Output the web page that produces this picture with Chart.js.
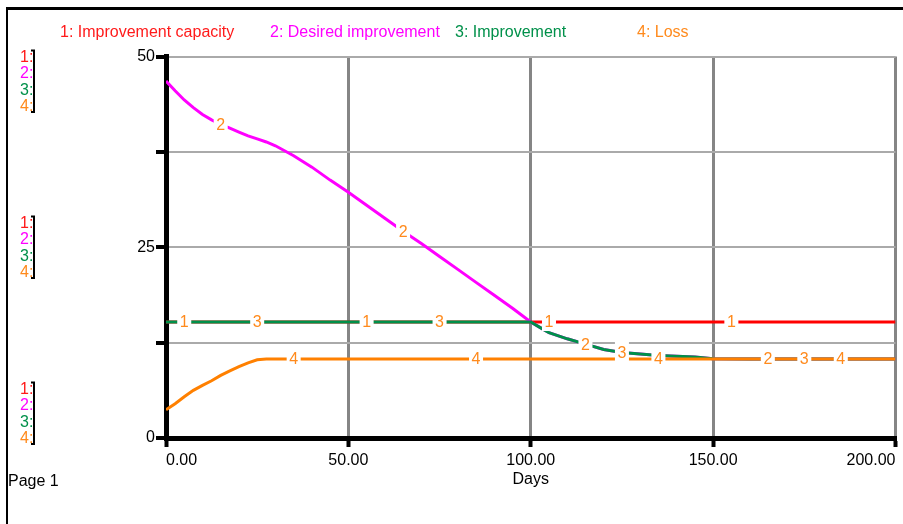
<!DOCTYPE html>
<html><head><meta charset="utf-8">
<script src="https://cdn.jsdelivr.net/npm/chart.js@4/dist/chart.umd.min.js"></script>
<style>html,body{margin:0;padding:0;background:#fff;}canvas{display:block;}</style>
</head><body>
<canvas id="c" width="903" height="524"></canvas>
<script>
const days = [0, 2.5, 5, 7.5, 10, 12.5, 15, 17.5, 20, 22.5, 25, 27.5, 30, 35, 40, 45, 50, 55, 60, 65, 70, 75, 80, 85, 90, 95, 100, 102.5, 105, 110, 115, 120, 125, 130, 135, 140, 145, 150, 160, 170, 180, 190, 200];
const improvementCapacity = [15.2,15.2,15.2,15.2,15.2,15.2,15.2,15.2,15.2,15.2,15.2,15.2,15.2,15.2,15.2,15.2,15.2,15.2,15.2,15.2,15.2,15.2,15.2,15.2,15.2,15.2,15.2,15.2,15.2,15.2,15.2,15.2,15.2,15.2,15.2,15.2,15.2,15.2,15.2,15.2,15.2,15.2,15.2];
const desiredImprovement = [46.8,45.5,44.3,43.3,42.4,41.7,41.1,40.6,40.1,39.6,39.2,38.8,38.3,37.0,35.5,33.8,32.2,30.5,28.8,27.1,25.5,23.8,22.1,20.4,18.7,17.0,15.2,14.5,13.8,13.0,12.3,11.6,11.2,11.0,10.8,10.7,10.6,10.4,10.35,10.35,10.35,10.35,10.35];
const improvement = [15.2,15.2,15.2,15.2,15.2,15.2,15.2,15.2,15.2,15.2,15.2,15.2,15.2,15.2,15.2,15.2,15.2,15.2,15.2,15.2,15.2,15.2,15.2,15.2,15.2,15.2,15.2,14.5,13.8,13.0,12.3,11.6,11.2,11.0,10.8,10.7,10.6,10.4,10.35,10.35,10.35,10.35,10.35];
const loss = [3.7,4.5,5.4,6.25,6.9,7.5,8.2,8.8,9.35,9.85,10.25,10.35,10.35,10.35,10.35,10.35,10.35,10.35,10.35,10.35,10.35,10.35,10.35,10.35,10.35,10.35,10.35,10.35,10.35,10.35,10.35,10.35,10.35,10.35,10.35,10.35,10.35,10.35,10.35,10.35,10.35,10.35,10.35];

const seriesNames = ['Improvement capacity', 'Desired improvement', 'Improvement', 'Loss'];
const seriesValues = [improvementCapacity, desiredImprovement, improvement, loss];
const lineColors = ['#ff0000', '#ff00ff', '#00904a', '#ff8000'];
const textColors = ['#ff1a1a', '#ff00ff', '#00904a', '#ff8a1c'];
const legendX = [60, 270, 455, 637];
const labelDays = [[5, 55, 105, 155], [15, 65, 115, 165], [25, 75, 125, 175], [35, 85, 135, 185]];
const scaleLevels = [50, 25, 0];
const xLabelStep = 50;
const yTickStep = 12.5;
const pageLabel = 'Page 1';
const xTitle = 'Days';

const FONT = '"Liberation Sans", Arial, sans-serif';
Chart.defaults.font.family = FONT;
Chart.defaults.color = '#000';

function valueAt(arr, t) {
  for (let i = 0; i < days.length - 1; i++) {
    if (t >= days[i] && t <= days[i + 1]) {
      const f = (t - days[i]) / (days[i + 1] - days[i]);
      return arr[i] + f * (arr[i + 1] - arr[i]);
    }
  }
  return arr[arr.length - 1];
}

const decor = {
  id: 'decor',
  afterDatasetsDraw(chart) {
    const ctx = chart.ctx, xs = chart.scales.x, ys = chart.scales.y;
    ctx.save();
    ctx.font = '16px ' + FONT;
    ctx.textAlign = 'center';
    ctx.textBaseline = 'middle';
    seriesValues.forEach((arr, s) => {
      labelDays[s].forEach(t => {
        const px = xs.getPixelForValue(t);
        const py = ys.getPixelForValue(valueAt(arr, t));
        ctx.fillStyle = '#fff';
        ctx.fillRect(px - 7, py - 13, 14, 22);
        ctx.fillStyle = textColors[3];
        ctx.fillText(String(s + 1), px, py + 1);
      });
    });
    ctx.restore();
  },
  afterDraw(chart) {
    const ctx = chart.ctx, ys = chart.scales.y;
    ctx.save();
    ctx.strokeStyle = '#000';
    ctx.lineWidth = 3;
    ctx.beginPath(); ctx.moveTo(6, 8.5); ctx.lineTo(903, 8.5); ctx.stroke();
    ctx.lineWidth = 2;
    ctx.beginPath(); ctx.moveTo(7, 7); ctx.lineTo(7, 524); ctx.stroke();
    ctx.font = '16px ' + FONT;
    ctx.textAlign = 'left';
    ctx.textBaseline = 'alphabetic';
    seriesNames.forEach((n, i) => {
      ctx.fillStyle = textColors[i];
      ctx.fillText((i + 1) + ': ' + n, legendX[i], 36.5);
    });
    ctx.fillStyle = '#000';
    ctx.fillText(pageLabel, 8, 486);
    const step = 16.5;
    scaleLevels.forEach((lv, k) => {
      const y = ys.getPixelForValue(lv);
      const first = k === 0 ? y : (k === 1 ? y - 1.5 * step : y - 3 * step);
      ctx.textBaseline = 'middle';
      for (let i = 0; i < 4; i++) {
        ctx.fillStyle = textColors[i];
        ctx.fillText((i + 1) + ':', 20, first + i * step + 1);
      }
      const top = first - 6, bot = first + 3 * step + 6;
      ctx.strokeStyle = '#000';
      ctx.lineWidth = 2;
      ctx.beginPath();
      ctx.moveTo(31, top); ctx.lineTo(34, top); ctx.lineTo(34, bot); ctx.lineTo(31, bot);
      ctx.stroke();
    });
    ctx.restore();
  }
};

const order = [4, 3, 2, 1];
new Chart(document.getElementById('c'), {
  type: 'line',
  data: {
    datasets: seriesValues.map((arr, i) => ({
      label: seriesNames[i],
      data: days.map((d, j) => ({ x: d, y: arr[j] })),
      borderColor: lineColors[i],
      backgroundColor: lineColors[i],
      borderWidth: 3,
      pointRadius: 0,
      tension: 0,
      fill: false,
      order: order[i]
    }))
  },
  options: {
    responsive: false,
    animation: false,
    layout: { padding: { top: 56.5, right: 7.5, bottom: 0, left: 0 } },
    plugins: { legend: { display: false }, tooltip: { enabled: false } },
    scales: {
      x: {
        type: 'linear', min: 0, max: 200,
        ticks: { stepSize: xLabelStep, callback: v => Number(v).toFixed(2), align: 'inner', padding: 4, maxRotation: 0, autoSkip: false, font: { size: 16 }, color: '#000' },
        grid: { color: '#858585', lineWidth: 3, tickColor: '#000', tickWidth: 4, tickLength: 9 },
        border: { color: '#000', width: 5 },
        title: { display: true, text: xTitle, font: { size: 16 }, color: '#000', padding: { top: 0, bottom: 35 } },
        afterFit: s => { s.height = 86; s.paddingLeft = 0; s.paddingRight = 0; }
      },
      y: {
        min: 0, max: 50,
        ticks: { stepSize: yTickStep, callback: v => (v % 25 === 0 ? String(v) : ''), padding: 1, font: { size: 16 }, color: '#000' },
        grid: { color: '#aaaaaa', lineWidth: 2, tickColor: '#000', tickWidth: 4, tickLength: 10 },
        border: { color: '#000', width: 5 },
        afterFit: s => { s.width = 166; s.paddingTop = 0; s.paddingBottom = 0; }
      }
    }
  },
  plugins: [decor]
});
</script>
</body></html>
